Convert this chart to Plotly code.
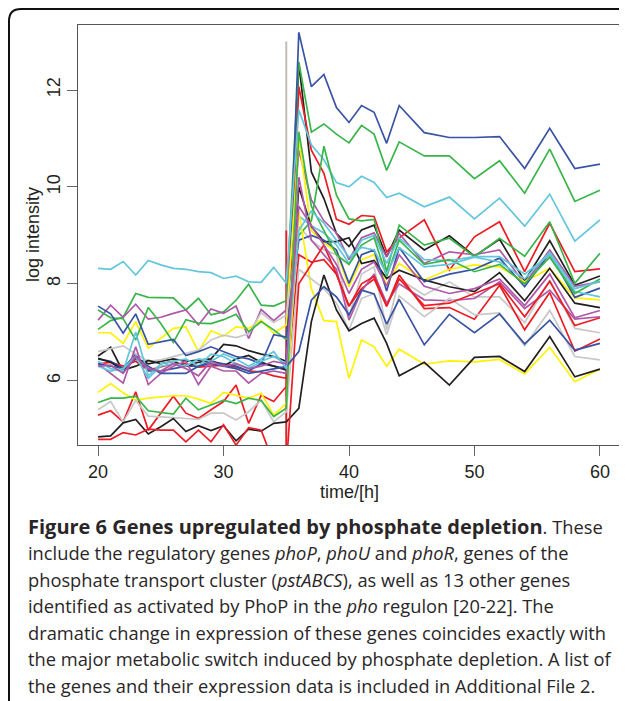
import plotly.graph_objects as go

# sampling times (hours): hourly up to 44 h, then every 2 h
times = list(range(20, 45)) + list(range(46, 61, 2))

# log intensity per gene, in plotting order (colours cycle like R's palette)
gene_01 = [6.51, 6.69, 6.18, 6.47, 6.35, 6.40, 6.45, 6.40, 6.42, 6.45, 6.75, 6.72, 6.62, 6.55, 6.50, 6.40,
           12.55, 10.31, 9.76, 9.04, 8.77, 9.11, 9.21, 8.56, 9.11, 8.70, 8.99, 8.57, 8.92, 8.06, 8.89, 7.97, 8.16]
gene_02 = [6.35, 6.38, 6.30, 6.40, 6.22, 6.28, 6.35, 6.35, 6.28, 6.30, 6.32, 6.28, 6.20, 6.18, 6.10, 6.05,
           12.07, 10.76, 10.28, 9.33, 9.23, 9.41, 9.39, 8.66, 8.95, 9.32, 8.28, 8.97, 9.28, 8.25, 9.25, 8.25, 8.31]
gene_03 = [7.06, 7.24, 7.31, 7.80, 7.72, 7.71, 7.71, 7.46, 7.70, 7.36, 7.42, 7.66, 7.99, 7.56, 7.54, 7.65,
           12.58, 11.13, 11.30, 11.09, 10.91, 11.27, 11.09, 10.34, 10.93, 10.64, 10.64, 10.17, 10.54, 9.87, 10.78, 9.70, 9.93]
gene_04 = [6.45, 6.40, 6.25, 6.55, 6.20, 6.20, 6.25, 6.30, 6.30, 6.40, 6.35, 6.30, 6.20, 6.35, 6.30, 6.25,
           13.19, 12.07, 12.32, 11.64, 11.33, 11.68, 11.54, 10.90, 11.68, 11.12, 11.02, 11.02, 11.04, 10.38, 11.21, 10.38, 10.47]
gene_05 = [8.32, 8.30, 8.46, 8.18, 8.48, 8.39, 8.32, 8.30, 8.25, 8.23, 8.11, 8.16, 8.04, 8.03, 8.34, 8.01,
           11.59, 10.87, 10.56, 10.09, 10.00, 10.22, 10.09, 9.78, 9.87, 9.59, 9.79, 9.34, 9.77, 9.19, 9.85, 8.88, 9.32]
gene_06 = [7.25, 7.56, 7.31, 7.58, 7.27, 7.31, 7.39, 7.46, 7.15, 7.48, 7.39, 7.54, 6.87, 7.47, 7.24, 7.46,
           10.76, 9.73, 9.30, 9.05, 8.50, 8.95, 9.05, 8.55, 9.04, 8.42, 8.66, 8.60, 8.70, 8.00, 8.70, 7.95, 8.04]
gene_07 = [6.99, 6.99, 6.77, 7.22, 6.67, 6.87, 7.08, 7.11, 6.60, 7.03, 6.92, 7.11, 7.08, 7.25, 6.98, 7.15,
           11.00, 9.10, 8.85, 8.65, 7.94, 8.50, 8.60, 7.98, 8.42, 8.08, 8.30, 8.39, 8.35, 8.04, 8.32, 7.71, 7.67]
gene_08 = [6.60, 6.66, 6.72, 6.55, 6.40, 6.43, 6.50, 6.56, 6.63, 6.84, 6.94, 6.89, 6.97, 7.40, 7.20, 7.35,
           9.18, 8.90, 8.70, 8.60, 7.32, 8.20, 8.35, 7.05, 8.10, 7.77, 8.04, 7.73, 7.73, 7.20, 8.08, 7.08, 6.99]
gene_09 = [6.46, 6.38, 6.22, 6.30, 6.42, 6.35, 6.40, 6.30, 6.38, 6.42, 6.30, 6.45, 6.52, 6.38, 6.30, 6.22,
           10.00, 9.18, 8.87, 8.87, 8.95, 8.42, 8.48, 8.11, 8.28, 8.08, 7.94, 7.84, 8.23, 7.65, 8.32, 7.60, 7.51]
gene_10 = [5.29, 5.38, 5.15, 5.77, 4.98, 5.33, 5.68, 5.33, 5.22, 5.40, 5.57, 5.91, 5.12, 5.70, 5.57, 5.88,
           8.60, 8.45, 8.50, 8.20, 7.54, 7.90, 8.10, 7.54, 8.18, 7.49, 7.51, 7.27, 7.97, 7.05, 7.82, 6.61, 6.86]
gene_11 = [7.46, 7.30, 7.28, 6.84, 7.51, 7.18, 6.79, 7.26, 7.19, 7.18, 7.26, 7.37, 7.01, 7.22, 7.05, 6.85,
           9.00, 9.30, 10.84, 9.83, 9.34, 9.30, 9.33, 8.25, 9.21, 8.80, 8.94, 8.56, 8.94, 8.57, 9.28, 8.01, 8.63]
gene_12 = [7.54, 7.38, 6.98, 7.38, 6.75, 6.80, 6.85, 6.52, 6.60, 6.70, 6.60, 6.50, 6.45, 6.35, 6.95, 6.90,
           8.90, 9.00, 8.90, 8.70, 8.01, 8.60, 8.70, 7.85, 8.75, 8.04, 8.20, 8.30, 8.53, 7.94, 8.63, 7.72, 7.91]
gene_13 = [6.40, 6.25, 6.20, 7.00, 6.10, 6.35, 6.40, 6.45, 6.30, 6.55, 6.50, 6.35, 6.25, 6.40, 6.50, 6.35,
           9.40, 9.20, 9.05, 8.80, 8.42, 8.90, 9.00, 8.42, 8.95, 8.50, 8.48, 8.56, 8.56, 8.20, 8.60, 7.84, 7.73]
gene_14 = [6.35, 6.15, 5.95, 6.70, 5.92, 6.15, 6.30, 6.40, 5.92, 6.30, 6.20, 6.20, 5.95, 6.15, 6.20, 6.15,
           10.20, 8.90, 8.60, 8.30, 7.25, 7.85, 8.20, 7.60, 8.00, 7.67, 7.65, 7.70, 8.04, 7.49, 7.87, 7.27, 7.32]
gene_15 = [5.76, 5.94, 5.75, 5.60, 5.64, 5.67, 5.69, 5.69, 5.62, 5.53, 5.76, 5.70, 5.64, 5.74, 5.29, 5.53,
           9.50, 7.90, 7.24, 7.22, 6.05, 6.84, 6.70, 6.30, 6.65, 6.34, 6.41, 6.39, 6.44, 6.14, 6.69, 5.98, 6.24]
gene_16 = [5.40, 5.57, 5.15, 5.59, 5.27, 5.26, 5.24, 5.22, 5.20, 5.33, 5.33, 5.19, 5.36, 5.60, 5.15, 5.36,
           8.30, 8.10, 7.90, 7.60, 7.05, 7.70, 7.80, 6.95, 7.75, 7.32, 7.70, 7.36, 7.40, 6.72, 7.45, 6.50, 6.43]
gene_17 = [4.84, 4.86, 5.13, 5.20, 4.90, 5.05, 5.22, 4.95, 5.07, 4.97, 5.07, 4.76, 5.00, 4.96, 5.12, 5.15,
           5.43, 7.22, 8.18, 7.46, 7.03, 7.18, 7.29, 6.77, 6.10, 6.38, 5.91, 6.48, 6.50, 6.19, 6.91, 6.08, 6.24]
gene_18 = [4.79, 4.79, 4.93, 4.88, 5.00, 4.98, 4.98, 4.74, 4.98, 4.74, 5.09, 4.67, 5.03, 4.98, 4.30, 4.20,
           8.00, 8.40, 8.80, 8.20, 7.54, 8.00, 8.15, 7.54, 8.10, 7.55, 7.60, 7.80, 8.00, 7.32, 8.05, 7.14, 7.30]
gene_19 = [5.55, 5.64, 5.64, 5.68, 5.38, 5.34, 5.31, 5.64, 5.40, 5.50, 5.60, 5.53, 5.64, 5.59, 5.26, 5.43,
           11.14, 9.60, 9.10, 8.60, 8.40, 8.80, 8.95, 8.15, 8.90, 8.40, 8.50, 8.25, 8.40, 8.00, 8.55, 7.80, 8.10]
gene_20 = [6.35, 6.30, 6.25, 6.45, 6.30, 6.15, 6.15, 6.15, 6.30, 6.35, 6.30, 6.25, 6.15, 6.20, 6.25, 6.29,
           6.60, 7.66, 7.94, 7.73, 7.36, 7.87, 7.79, 7.17, 7.68, 6.74, 7.37, 6.99, 7.38, 6.76, 7.25, 6.63, 6.77]
gene_21 = [6.30, 6.20, 6.25, 6.50, 6.05, 6.30, 6.35, 6.30, 6.45, 6.40, 6.55, 6.45, 6.30, 6.45, 6.60, 6.25,
           9.10, 9.50, 9.25, 8.90, 8.55, 8.75, 8.70, 8.20, 8.75, 8.35, 8.40, 8.55, 8.45, 8.10, 8.65, 7.90, 8.05]
gene_22 = [6.30, 6.32, 6.15, 6.50, 6.25, 6.20, 6.35, 6.25, 6.10, 6.40, 6.30, 6.35, 6.25, 6.30, 6.40, 6.35,
           9.60, 9.20, 8.80, 8.40, 7.80, 8.30, 8.45, 7.95, 8.60, 7.95, 7.80, 7.90, 8.10, 7.55, 8.20, 7.30, 7.45]

genes = [gene_01, gene_02, gene_03, gene_04, gene_05, gene_06, gene_07, gene_08, gene_09, gene_10, gene_11,
         gene_12, gene_13, gene_14, gene_15, gene_16, gene_17, gene_18, gene_19, gene_20, gene_21, gene_22]
for g in genes:
    assert len(g) == len(times), len(g)

# phosphate depletion marker at 35 h
switch_time = 35
gray_mark_top = 13.0
red_mark_top = 9.1

x_ticks = [20, 30, 40, 50, 60]
y_ticks = [6, 8, 10, 12]

caption_lines = [
    "<span style='font-size:20px'><b>Figure 6 Genes upregulated by phosphate depletion</b></span>. These",
    "include the regulatory genes <i>phoP</i>, <i>phoU</i> and <i>phoR</i>, genes of the",
    "phosphate transport cluster (<i>pstABCS</i>), as well as 13 other genes",
    "identified as activated by PhoP in the <i>pho</i> regulon [20-22]. The",
    "dramatic change in expression of these genes coincides exactly with",
    "the major metabolic switch induced by phosphate depletion. A list of",
    "the genes and their expression data is included in Additional File 2.",
]

# R-like default palette, as printed
palette = ["#231f20", "#ed1c24", "#39b54a", "#3953a4", "#62c6dc", "#b058a8", "#fff200", "#c8c8c8"]

# page pixels; the html body adds an 8px margin, so the figure is shifted by OFF
OFF = 8
W, H = 627 - OFF, 701 - OFF
L, R, T, B = 78 - OFF, 620 - OFF, 25 - OFF, 445 - OFF   # plot box in figure pixels


def px(x):
    return (x - OFF - L) / (R - L)


def py(y):
    return (B - (y - OFF)) / (B - T)


fig = go.Figure()

fig.add_trace(go.Scatter(x=[switch_time, switch_time], y=[0, gray_mark_top], mode="lines",
                         line=dict(color="#c4bcb6", width=2), showlegend=False))
fig.add_trace(go.Scatter(x=[switch_time, switch_time], y=[0, red_mark_top], mode="lines",
                         line=dict(color=palette[1], width=1.8), showlegend=False))

for i, g in enumerate(genes):
    fig.add_trace(go.Scatter(x=times, y=g, mode="lines",
                             line=dict(color=palette[i % len(palette)], width=1.7),
                             showlegend=False))

axis_common = dict(showline=True, mirror=True, linecolor="#555555", linewidth=1.2,
                   ticks="outside", ticklen=10, tickcolor="#666666", tickwidth=1.2,
                   showgrid=False, zeroline=False,
                   tickfont=dict(family="Liberation Sans, Arial", size=18, color="#231f20"))

fig.update_xaxes(range=[18.4, 61.6], tickvals=x_ticks, **axis_common)
fig.update_yaxes(range=[4.673, 13.342], tickvals=y_ticks, tickangle=-90, **axis_common)

annotations = [
    dict(text="log intensity", x=px(33), y=py(235), textangle=-90,
         font=dict(family="Liberation Sans, Arial", size=18, color="#231f20")),
    dict(text="time/[h]", x=px(349), y=py(492),
         font=dict(family="Liberation Sans, Arial", size=18, color="#231f20")),
]
for k, line in enumerate(caption_lines):
    annotations.append(dict(text=line, x=px(26), y=py(526 + 26.5 * k), xanchor="left",
                            font=dict(family="Open Sans", size=18.3, color="#2a2627")))
for a in annotations:
    a.update(xref="paper", yref="paper", showarrow=False, yanchor="middle")
    a.setdefault("xanchor", "center")

# rounded outer frame (open to the right and bottom, as in the crop)
x0, y0, rad = px(9), py(9), 12
x1, y1 = px(640), py(720)
xr, yr = rad / (R - L), rad / (B - T)
frame = (f"M {x0},{y1} L {x0},{y0 - yr} Q {x0},{y0} {x0 + xr},{y0} L {x1},{y0}")

fig.update_layout(
    width=W, height=H,
    margin=dict(l=L, r=W - R, t=T, b=H - B),
    plot_bgcolor="white", paper_bgcolor="white",
    annotations=annotations,
    shapes=[dict(type="path", path=frame, xref="paper", yref="paper",
                 line=dict(color="#111111", width=2))],
)

fig.write_html("out.html")
